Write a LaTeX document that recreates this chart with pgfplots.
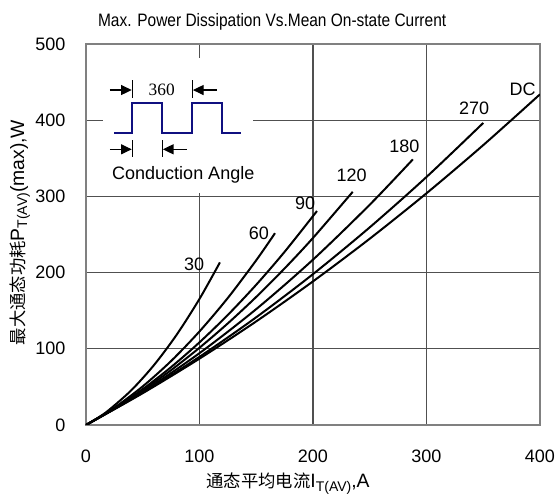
\documentclass[border=0pt]{standalone}
\usepackage{fontspec}
\setmainfont{Liberation Sans}
\newfontfamily\cjk{Noto Sans CJK SC}
\newfontfamily\tnr{Liberation Serif}
\usepackage{pgfplots}
\pgfplotsset{compat=1.18}
\usetikzlibrary{arrows.meta}
\definecolor{wave}{HTML}{101080}
\definecolor{gridc}{HTML}{505050}
\newcommand{\fs}{\fontsize{13.5}{16}\selectfont}
\newcommand{\lab}{\fontsize{14.5}{17}\selectfont}
\newcommand{\ch}[1]{{\cjk\fontsize{13}{16}\selectfont #1}}
\newcommand{\sub}[1]{\raisebox{-0.3ex}{\fontsize{10.5}{12}\selectfont #1}}
\begin{document}
\begin{tikzpicture}
\useasboundingbox (-64.5pt,-53.25pt) rectangle (354pt,318.75pt);
\begin{axis}[
    scale only axis,
    width=340.5pt, height=285.75pt,
    xmin=0, xmax=400, ymin=0, ymax=500,
    xtick={0,100,200,300,400},
    ytick={0,100,200,300,400,500},
    grid=major,
    major grid style={gridc, line width=0.9pt},
    axis line style={gray, line width=1.4pt},
    major tick length=0pt,
    /pgf/number format/assume math mode=true,
    tick label style={font=\fs},
    xticklabel style={yshift=-15pt},
    yticklabel style={xshift=-12pt},
    xlabel={\ch{通态平均电流}I\sub{T(AV)},A},
    xlabel style={font=\lab, at={(axis description cs:0.445,0)}, anchor=center, yshift=-44pt},
    ylabel={\ch{最大通态功耗}P\sub{T(AV)}(max),W},
    ylabel style={font=\lab, at={(axis description cs:-0.146,0.505)}, anchor=center},
    title={\scalebox{0.86}[1]{Max. Power Dissipation Vs.Mean On-state Current}},
    title style={font=\fontsize{13.5}{16}\selectfont, at={(axis description cs:0.41,1)}, anchor=center, yshift=10.5pt},
    curve/.style={black, line width=1.5pt, smooth, no marks},
]
% 30 deg
\addplot[curve] coordinates {(0,0)(10,8.9)(20,19.4)(40,45.7)(60,78.8)(80,118.7)(100,165.5)(118,213.4)};
% 60 deg
\addplot[curve] coordinates {(0,0)(25,22.7)(50,50.7)(75,84.0)(100,122.8)(125,166.8)(150,216.2)(166.5,251.7)};
% 90 deg
\addplot[curve] coordinates {(0,0)(25,21.8)(50,47.1)(75,76.0)(100,108.5)(125,144.5)(150,184.1)(175,227.3)(203.5,280.8)};
% 120 deg
\addplot[curve] coordinates {(0,0)(25,21.3)(50,45.3)(75,72.0)(100,101.4)(125,133.4)(150,168.1)(175,205.5)(200,245.5)(235,306.0)};
% 180 deg
\addplot[curve] coordinates {(0,0)(50,43.6)(100,94.3)(150,152.1)(200,217.0)(250,289.1)(288,348.6)};
% 270 deg
\addplot[curve] coordinates {(0,0)(50,42.4)(100,89.5)(150,141.4)(200,198.0)(250,259.4)(300,325.5)(350,396.4)};
% DC
\addplot[curve] coordinates {(0,0)(50,41.8)(100,87.1)(150,136.0)(200,188.5)(250,244.5)(300,304.1)(350,367.3)(400,434.0)};

\node[font=\fs] at (axis cs:95.2,211) {30};
\node[font=\fs] at (axis cs:152.4,252) {60};
\node[font=\fs] at (axis cs:193,291) {90};
\node[font=\fs] at (axis cs:234,328) {120};
\node[font=\fs] at (axis cs:280.6,365.5) {180};
\node[font=\fs] at (axis cs:341.9,415.4) {270};
\node[font=\fs] at (axis cs:384.6,441) {DC};

% inset: conduction angle sketch
\fill[white] (axis cs:14.8,304) rectangle (axis cs:147,481);
\addplot[wave, line width=1.6pt, sharp plot, no marks] coordinates {(24.9,382.8)(40.8,382.8)(40.8,422.2)(67.2,422.2)(67.2,382.8)(93.7,382.8)(93.7,422.2)(120.1,422.2)(120.1,382.8)(136.6,382.8)};
\draw[line width=0.8pt] (axis cs:40.8,429.1) -- (axis cs:40.8,452.8);
\draw[line width=0.8pt] (axis cs:93.7,429.1) -- (axis cs:93.7,452.8);
\draw[line width=0.8pt] (axis cs:40.8,352.1) -- (axis cs:40.8,374.0);
\draw[line width=0.8pt] (axis cs:67.2,352.1) -- (axis cs:67.2,374.0);
\draw[line width=0.8pt, -{Triangle[length=8pt,width=7.5pt]}] (axis cs:21.1,439.6) -- (axis cs:40.3,439.6);
\draw[line width=0.8pt, -{Triangle[length=8pt,width=7.5pt]}] (axis cs:115.1,439.6) -- (axis cs:94.2,439.6);
\draw[line width=0.8pt, -{Triangle[length=8pt,width=7.5pt]}] (axis cs:21.1,361.8) -- (axis cs:40.3,361.8);
\draw[line width=0.8pt, -{Triangle[length=8pt,width=7.5pt]}] (axis cs:88.7,361.8) -- (axis cs:67.7,361.8);
\node[font={\tnr\fontsize{13}{15}\selectfont}] at (axis cs:66.7,439.6) {360};
\node[font=\fs] at (axis cs:85.7,328) {Conduction Angle};
\end{axis}
\end{tikzpicture}
\end{document}
